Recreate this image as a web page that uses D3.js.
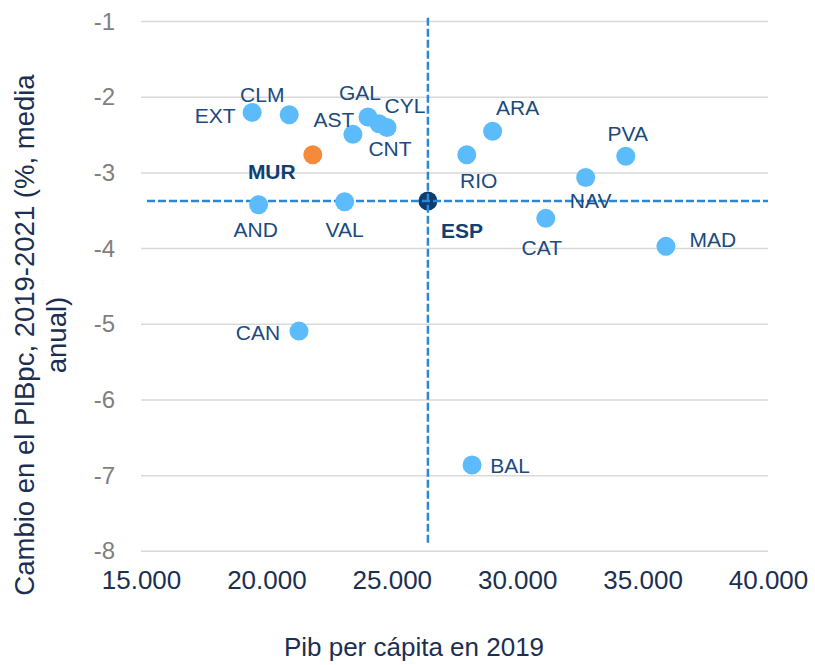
<!DOCTYPE html>
<html>
<head>
<meta charset="utf-8">
<script src="https://cdn.jsdelivr.net/npm/d3@7"></script>
<style>
  html, body { margin: 0; padding: 0; background: #fff; }
  svg { display: block; font-family: "Liberation Sans", Arial, sans-serif; }
</style>
</head>
<body>
<svg id="chart" width="815" height="665"></svg>
<script>
// Regions (autonomous communities) and Spain as a whole
const regions = ["EXT", "CLM", "MUR", "AND", "VAL", "AST", "GAL", "CYL", "CNT",
                 "RIO", "ARA", "NAV", "PVA", "CAT", "MAD", "CAN", "BAL", "ESP"];
// GDP per capita in 2019 (euros)
const gdpPc2019 = [19430, 20910, 21850, 19690, 23120, 23450, 24050, 24490, 24810,
                   27990, 29020, 32730, 34330, 31140, 35930, 21300, 28200, 26440];
// Change in GDP per capita 2019-2021 (%, annual average)
const gdpPcChange = [-2.20, -2.23, -2.76, -3.42, -3.38, -2.49, -2.26, -2.35, -2.40,
                     -2.76, -2.45, -3.06, -2.78, -3.60, -3.97, -5.09, -6.86, -3.37];

const xTicks = [15000, 20000, 25000, 30000, 35000, 40000];
const yTicks = [-1, -2, -3, -4, -5, -6, -7, -8];

// Label placement around each marker (pixel offsets of the label centre)
const labelOffset = {
  EXT: [-37, 3], CLM: [-27, -20], MUR: [-41, 17], AND: [-3, 25], VAL: [0, 28],
  AST: [-19, -15], GAL: [-8, -24], CYL: [26, -18], CNT: [3, 21], RIO: [12, 26],
  ARA: [25, -24], NAV: [5, 23], PVA: [2, -23], CAT: [-4, 29], MAD: [47, -7],
  CAN: [-41, 1], BAL: [38, 0], ESP: [34, 30]
};
const boldLabels = new Set(["MUR", "ESP"]);

const svg = d3.select("#chart");
const x = d3.scaleLinear().domain([15000, 40000]).range([141, 768]);
const y = d3.scaleLinear().domain([-1, -8]).range([21.6, 551.3]);

const fmt = d => d3.format(",")(d).replace(/,/g, ".");

// Horizontal gridlines
svg.append("g").selectAll("line").data(yTicks).join("line")
  .attr("x1", x.range()[0]).attr("x2", x.range()[1])
  .attr("y1", d => y(d)).attr("y2", d => y(d))
  .attr("stroke", "#d9d9d9").attr("stroke-width", 1.5);

// Y axis (plain hyphen for the negative sign)
const yAxis = svg.append("g")
  .attr("transform", `translate(${x.range()[0]},0)`)
  .call(d3.axisLeft(y).tickValues(yTicks).tickSize(0).tickPadding(26).tickFormat(d => String(d)));
yAxis.select(".domain").remove();
yAxis.selectAll("text").attr("fill", "#7f7f7f").attr("font-size", 24)
  .attr("font-family", "Liberation Sans, Arial, sans-serif");

// X axis
const xAxis = svg.append("g")
  .attr("transform", `translate(0,${y.range()[1]})`)
  .call(d3.axisBottom(x).tickValues(xTicks).tickSize(0).tickPadding(19).tickFormat(fmt));
xAxis.select(".domain").remove();
xAxis.selectAll("text").attr("fill", "#1b2f52").attr("font-size", 26)
  .attr("font-family", "Liberation Sans, Arial, sans-serif");

// Axis titles
svg.append("text")
  .attr("x", 414).attr("y", 656)
  .attr("text-anchor", "middle").attr("fill", "#1b2f52").attr("font-size", 26)
  .text("Pib per cápita en 2019");

const yTitle = svg.append("text")
  .attr("transform", "translate(0,335) rotate(-90)")
  .attr("text-anchor", "middle").attr("fill", "#1b2f52").attr("font-size", 27.5);
yTitle.append("tspan").attr("x", 0).attr("y", 34).text("Cambio en el PIBpc, 2019-2021 (%, media");
yTitle.append("tspan").attr("x", 0).attr("y", 66).text("anual)");

const points = regions.map((r, i) => ({ code: r, gdp: gdpPc2019[i], chg: gdpPcChange[i] }));
const esp = points.find(p => p.code === "ESP");

// Spain's marker sits underneath its reference lines
svg.append("circle")
  .attr("cx", x(esp.gdp)).attr("cy", y(esp.chg)).attr("r", 9.5)
  .attr("fill", "#0d3d70");

// Dashed reference lines through Spain's values
const refColor = "#2f86d2";
svg.append("line")
  .attr("x1", x(esp.gdp)).attr("x2", x(esp.gdp))
  .attr("y1", y(-0.95)).attr("y2", y(-7.92))
  .attr("stroke", refColor).attr("stroke-width", 2.5).attr("stroke-dasharray", "8,3");
svg.append("line")
  .attr("x1", x.range()[0] + 6).attr("x2", x.range()[1])
  .attr("y1", y(esp.chg)).attr("y2", y(esp.chg))
  .attr("stroke", refColor).attr("stroke-width", 2.5).attr("stroke-dasharray", "8,3");

// Region markers
svg.append("g").selectAll("circle")
  .data(points.filter(p => p.code !== "ESP")).join("circle")
  .attr("cx", d => x(d.gdp)).attr("cy", d => y(d.chg)).attr("r", 9.5)
  .attr("fill", d => d.code === "MUR" ? "#f58a3b" : "#5cbcfb");

// Labels
svg.append("g").selectAll("text").data(points).join("text")
  .attr("x", d => x(d.gdp) + labelOffset[d.code][0])
  .attr("y", d => y(d.chg) + labelOffset[d.code][1])
  .attr("text-anchor", "middle").attr("dominant-baseline", "central")
  .attr("font-size", 21)
  .attr("font-weight", d => boldLabels.has(d.code) ? "bold" : "normal")
  .attr("fill", d => boldLabels.has(d.code) ? "#0f4073" : "#1c4a7e")
  .text(d => d.code);
</script>
</body>
</html>
